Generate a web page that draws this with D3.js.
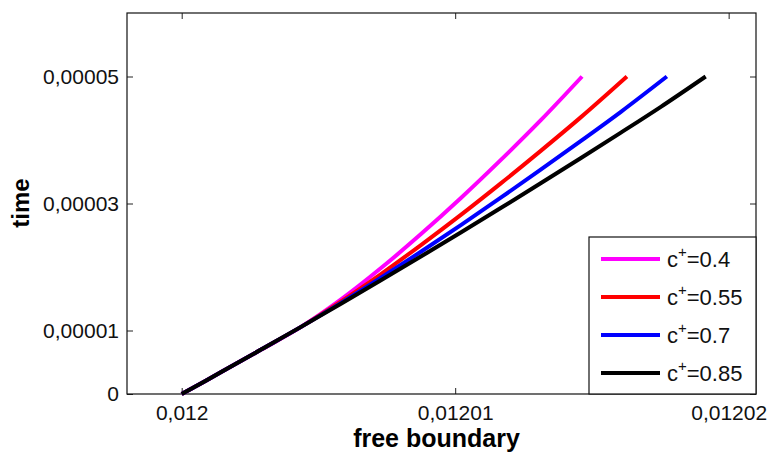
<!DOCTYPE html>
<html>
<head>
<meta charset="utf-8">
<script src="https://cdn.jsdelivr.net/npm/d3@7"></script>
<style>
  body { margin: 0; background: #fff; }
  svg { display: block; font-family: "Liberation Sans", Arial, sans-serif; }
</style>
</head>
<body>
<svg id="chart"></svg>
<script>
// values (free boundary s, time t)
const xTickValues = [0.012, 0.01201, 0.01202];
const xTickLabels = ['0,012', '0,01201', '0,01202'];
const yTickValues = [0, 0.00001, 0.00003, 0.00005];
const yTickLabels = ['0', '0,00001', '0,00003', '0,00005'];

const seriesNames = ['0.4', '0.55', '0.7', '0.85'];
const seriesColors = ['#ff00ff', '#ff0000', '#0000ff', '#000000'];

// t values are in units of 1e-6
const xMagenta = [0.012, 0.01200146, 0.01200292, 0.01200438, 0.01200584, 0.0120073, 0.01200876, 0.01201022, 0.01201168, 0.01201314, 0.01201464];
const tMagenta = [0, 3.49, 7.03, 10.61, 14.94, 19.87, 25.22, 30.90, 36.90, 43.16, 50];

const xRed = [0.012, 0.01200146, 0.01200292, 0.01200438, 0.01200584, 0.0120073, 0.01200876, 0.01201022, 0.01201168, 0.01201314, 0.0120146, 0.01201628];
const tRed = [0, 3.49, 7.03, 10.61, 14.61, 18.93, 23.50, 28.25, 33.21, 38.33, 43.60, 50];

const xBlue = [0.012, 0.01200146, 0.01200292, 0.01200438, 0.01200584, 0.0120073, 0.01200876, 0.01201022, 0.01201168, 0.01201314, 0.0120146, 0.01201606, 0.01201774];
const tBlue = [0, 3.49, 7.03, 10.61, 14.39, 18.35, 22.44, 26.64, 30.95, 35.36, 39.86, 44.44, 50];

const xBlack = [0.012, 0.01200146, 0.01200292, 0.01200438, 0.01200584, 0.0120073, 0.01200876, 0.01201022, 0.01201168, 0.01201314, 0.0120146, 0.01201606, 0.01201752, 0.01201916];
const tBlack = [0, 3.49, 7.03, 10.61, 14.25, 17.94, 21.68, 25.47, 29.32, 33.22, 37.17, 41.16, 45.22, 50];

const seriesX = [xMagenta, xRed, xBlue, xBlack];
const seriesT = [tMagenta, tRed, tBlue, tBlack];

const w = 771;
const h = 453;
const margin = { top: 13, right: 15, bottom: 59, left: 127 };
const iw = w - margin.left - margin.right;
const ih = h - margin.top - margin.bottom;

const svg = d3.select('#chart')
  .attr('width', w)
  .attr('height', h);

const g = svg.append('g')
  .attr('transform', `translate(${margin.left}, ${margin.top})`);

const xScale = d3.scaleLinear().domain([0.011998, 0.012021]).range([0, iw]);
const yScale = d3.scaleLinear().domain([0, 0.00006]).range([ih, 0]);

const xAxis = d3.axisBottom(xScale)
  .tickValues(xTickValues)
  .tickFormat((d, i) => xTickLabels[i])
  .tickSizeInner(-6).tickSizeOuter(0).tickPadding(11);
const yAxis = d3.axisLeft(yScale)
  .tickValues(yTickValues)
  .tickFormat((d, i) => yTickLabels[i])
  .tickSizeInner(-6).tickSizeOuter(0).tickPadding(8);

// mirrored ticks on top and right, no labels
const xTop = d3.axisTop(xScale).tickValues(xTickValues).tickFormat('').tickSizeInner(-6).tickSizeOuter(0);
const yRight = d3.axisRight(yScale).tickValues(yTickValues).tickFormat('').tickSizeInner(-6).tickSizeOuter(0);

g.append('g').attr('transform', `translate(0, ${ih})`).call(xAxis);
g.append('g').call(yAxis);
g.append('g').call(xTop);
g.append('g').attr('transform', `translate(${iw}, 0)`).call(yRight);

g.selectAll('.domain').remove();
g.selectAll('.tick line').attr('stroke', '#222');
g.selectAll('.tick text')
  .attr('fill', '#111')
  .style('font-size', '21px');

g.append('rect')
  .attr('width', iw)
  .attr('height', ih)
  .attr('fill', 'none')
  .attr('stroke', '#111')
  .attr('stroke-width', 1.2);

const line = d3.line()
  .x(d => xScale(d[0]))
  .y(d => yScale(d[1] * 1e-6))
  .curve(d3.curveCatmullRom);

const plotData = seriesNames.map((name, i) => ({
  name,
  color: seriesColors[i],
  points: seriesX[i].map((x, j) => [x, seriesT[i][j]])
}));

g.selectAll('.series')
  .data(plotData)
  .join('path')
  .attr('class', 'series')
  .attr('d', d => line(d.points))
  .attr('fill', 'none')
  .attr('stroke', d => d.color)
  .attr('stroke-width', 4)
  .attr('stroke-linejoin', 'round');

// legend in the lower right corner
const lg = g.append('g').attr('transform', `translate(${iw - 167}, ${ih - 157})`);
lg.append('rect')
  .attr('width', 167)
  .attr('height', 157)
  .attr('fill', '#fff')
  .attr('stroke', '#111')
  .attr('stroke-width', 1.2);

const rows = lg.selectAll('.row')
  .data(plotData)
  .join('g')
  .attr('class', 'row')
  .attr('transform', (d, i) => `translate(0, ${22 + i * 38})`);

rows.append('line')
  .attr('x1', 12).attr('x2', 71)
  .attr('stroke', d => d.color)
  .attr('stroke-width', 4);

const txt = rows.append('text')
  .attr('x', 78)
  .attr('y', 8)
  .style('font-size', '22px')
  .attr('fill', '#111');
txt.append('tspan').text('c');
txt.append('tspan').attr('dy', -10).style('font-size', '15px').text('+');
txt.append('tspan').attr('dy', 10).text(d => '=' + d.name);

// axis titles
svg.append('text')
  .attr('x', margin.left + iw / 2 - 5)
  .attr('y', 447)
  .attr('text-anchor', 'middle')
  .style('font-size', '25px')
  .style('font-weight', 'bold')
  .text('free boundary');

svg.append('text')
  .attr('transform', `translate(29, 203) rotate(-90)`)
  .attr('text-anchor', 'middle')
  .style('font-size', '24px')
  .style('font-weight', 'bold')
  .text('time');
</script>
</body>
</html>
